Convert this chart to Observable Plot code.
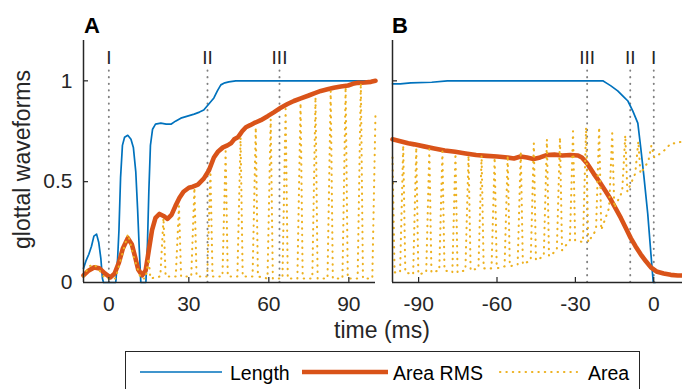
<!DOCTYPE html>
<html>
<head>
<meta charset="utf-8">
<script src="https://cdn.jsdelivr.net/npm/d3@7"></script>
<script src="https://cdn.jsdelivr.net/npm/@observablehq/plot@0.6"></script>
<style>
  html, body { margin: 0; padding: 0; background: #fff; overflow: hidden; }
  #wrap { position: relative; width: 682px; height: 389px; overflow: hidden; font-family: "Liberation Sans", Arial, Helvetica, sans-serif; color: #262626; }
  .plot { position: absolute; top: 0; }
  .plabel { position: absolute; font-weight: bold; font-size: 22px; line-height: 22px; color: #000; }
</style>
</head>
<body>
<div id="wrap"></div>
<script>
// ---------- data ----------
const xDomainA = [-9.5, 100];
const xDomainB = [-100, 11];
const yDomain = [0, 1.2];
const xTicksA = [0, 30, 60, 90];
const xTicksB = [-90, -60, -30, 0];
const yTicks = [0, 0.5, 1];
const markerLabels = ["I", "II", "III"];
const markerTimesA = [0, 37, 64];
const markerTimesB = [0, -9, -25.5];
const seriesNames = ["Length", "Area RMS", "Area"];

const lengthA = [[-9.5,0.07],[-8.5,0.11],[-7.5,0.14],[-6.5,0.18],[-5.6,0.23],[-4.6,0.24],[-3.8,0.20],[-3,0.12],[-2.4,0.02],[-2,0],[2.6,0],[3.3,0.12],[3.8,0.26],[4.4,0.52],[5.1,0.68],[5.9,0.72],[7.1,0.73],[8.3,0.71],[9.2,0.67],[10.1,0.55],[10.8,0.36],[11.4,0.17],[12,0],[13.9,0],[14.5,0.2],[15,0.45],[15.6,0.68],[16.4,0.76],[17.5,0.785],[19.5,0.79],[21.5,0.785],[23.3,0.785],[25,0.80],[27,0.815],[29.5,0.825],[32,0.835],[34,0.845],[35.6,0.855],[37.5,0.885],[39.4,0.915],[40.7,0.95],[42,0.98],[43.5,0.99],[45,0.995],[47.6,1.0],[100,1.0]];

const rmsA = [[-9.5,0.035],[-7.5,0.06],[-5.5,0.075],[-3.5,0.07],[-1.5,0.045],[0.5,0.025],[2.2,0.045],[3.8,0.1],[5.3,0.17],[7.1,0.22],[8.6,0.19],[9.8,0.13],[11,0.065],[12.5,0.035],[13.8,0.06],[15,0.16],[16.2,0.26],[17.5,0.32],[19,0.34],[20.5,0.33],[22,0.315],[23.5,0.335],[25,0.38],[26.5,0.42],[28,0.45],[30,0.47],[31.5,0.475],[33.4,0.485],[35.6,0.515],[37.5,0.555],[39.4,0.62],[41,0.65],[42.8,0.67],[44.5,0.68],[45.8,0.69],[47,0.71],[48.4,0.72],[50,0.75],[51.4,0.77],[53,0.78],[54.4,0.79],[57,0.805],[59.7,0.826],[62,0.845],[64.5,0.867],[67,0.885],[69.4,0.90],[72,0.913],[74.7,0.926],[77,0.938],[79.5,0.95],[82,0.958],[84.4,0.966],[87,0.972],[89.7,0.977],[91.5,0.985],[93.4,0.99],[96,0.992],[98.3,0.995],[100,1.0]];

const areaA = [[-9.5,0.03],[-7.5,0.08],[-5.5,0.09],[-3.5,0.06],[-1.5,0.02],[2.5,0.02],[5,0.14],[7.2,0.24],[9.5,0.12],[12,0.02],[13.8,0.02],[14.9,0.12],[15.6,0.02],
  [19.3,0.03],[20.5,0.32],[21.3,0.03],
  [25.1,0.03],[26.3,0.38],[27.1,0.03],
  [30.9,0.03],[32.1,0.47],[32.9,0.03],
  [36.9,0.03],[38.1,0.55],[38.9,0.03],
  [42.6,0.03],[43.8,0.65],[44.6,0.03],
  [48.2,0.03],[49.4,0.72],[50.2,0.03],
  [53.9,0.03],[55.1,0.77],[55.9,0.03],
  [59.5,0.02],[60.7,0.81],[61.5,0.02],
  [65.1,0.02],[66.3,0.86],[67.1,0.02],
  [70.7,0.02],[71.9,0.89],[72.7,0.02],
  [76.3,0.02],[77.5,0.92],[78.3,0.02],
  [82,0.02],[83.2,0.95],[84,0.02],
  [87.6,0.02],[88.8,0.97],[89.6,0.02],
  [93.3,0.02],[94.5,0.99],[95.3,0.02],
  [98.8,0.02],[100,0.84]];

const lengthB = [[-100,0.985],[-97,0.985],[-93,0.99],[-85,0.993],[-79,1.0],[-19.5,1.0],[-17.6,0.985],[-16.4,0.975],[-13.8,0.95],[-11.5,0.92],[-9.9,0.90],[-8,0.85],[-6.1,0.79],[-5,0.67],[-3.8,0.53],[-2.3,0.34],[-1.2,0.16],[-0.2,0.0],[0.5,0.0]];

const rmsB = [[-100,0.71],[-97,0.70],[-94,0.69],[-91.7,0.685],[-88,0.675],[-84,0.665],[-80,0.655],[-76,0.648],[-72,0.64],[-68,0.632],[-64,0.628],[-60,0.625],[-56,0.62],[-53.5,0.615],[-51,0.625],[-48.5,0.62],[-46,0.613],[-43.5,0.62],[-41,0.632],[-38,0.634],[-35,0.63],[-32,0.632],[-29,0.63],[-27.5,0.62],[-25.5,0.59],[-23,0.54],[-20.3,0.49],[-18.3,0.45],[-16.4,0.41],[-14.5,0.365],[-12.6,0.32],[-10.7,0.27],[-8.8,0.22],[-7,0.18],[-5,0.14],[-3,0.105],[-1.1,0.075],[1,0.055],[3.8,0.045],[6.5,0.038],[9.2,0.035],[11,0.035]];

const areaB = [[-100,0.62],[-99.2,0.05],
  [-97.1,0.05],[-95.9,0.68],[-95.1,0.05],
  [-92.1,0.04],[-90.9,0.67],[-90.1,0.04],
  [-87.1,0.05],[-85.9,0.66],[-85.1,0.05],
  [-82.1,0.06],[-80.9,0.65],[-80.1,0.06],
  [-77.1,0.05],[-75.9,0.64],[-75.1,0.05],
  [-72.1,0.06],[-70.9,0.63],[-70.1,0.06],
  [-67.1,0.07],[-65.9,0.63],[-65.1,0.07],
  [-62.1,0.07],[-60.9,0.62],[-60.1,0.07],
  [-57.1,0.08],[-55.9,0.63],[-55.1,0.08],
  [-52.1,0.09],[-50.9,0.65],[-50.1,0.09],
  [-47.1,0.11],[-45.9,0.69],[-45.1,0.11],
  [-42.1,0.13],[-40.9,0.71],[-40.1,0.13],
  [-37.1,0.16],[-35.9,0.72],[-35.1,0.16],
  [-32.1,0.21],[-30.9,0.75],[-30.1,0.21],
  [-27.1,0.20],[-25.9,0.77],[-25.1,0.20],
  [-22.1,0.26],[-20.9,0.77],[-20.1,0.26],
  [-17.1,0.37],[-15.9,0.74],[-15.1,0.37],
  [-12.1,0.45],[-10.9,0.73],[-10.1,0.45],
  [-7.1,0.54],[-5.9,0.70],[-5.1,0.54],
  [-2.1,0.60],[-0.9,0.68],[0.2,0.62],
  [2.5,0.64],[4.5,0.66],[6.5,0.69],[8.5,0.69],[11,0.70]];

// ---------- style ----------
const FONT = '"Liberation Sans", Arial, Helvetica, sans-serif';
const BLUE = "#0072BD", ORANGE = "#D95319", YELLOW = "#EDB120", AX = "#262626", GRID = "#808080";
const H = 320, MT = 40, MB = 38;

function panel({left, width, marginLeft, marginRight, xDomain, xTicks, tickLabels, markerTimes, length, rms, area}) {
  const plotW = width - marginLeft - marginRight;
  const plotH = H - MT - MB;
  const markers = markerTimes.map((t, i) => ({t, label: markerLabels[i]}));
  const marks = [
    Plot.ruleX(markers, {x: "t", y1: 0, y2: 1.06, stroke: GRID, strokeWidth: 1.9, strokeDasharray: "0.4,6.2", strokeLinecap: "round"}),
    Plot.text(markers, {x: "t", y: 1.116, text: "label", fontSize: 19, fill: AX, lineAnchor: "middle"}),
    Plot.line(length, {x: d => d[0], y: d => d[1], stroke: BLUE, strokeWidth: 1.7}),
    Plot.line(rms, {x: d => d[0], y: d => d[1], stroke: ORANGE, strokeWidth: 4.6}),
    Plot.line(area, {x: d => d[0], y: d => d[1], stroke: YELLOW, strokeWidth: 2.1, strokeDasharray: "0.4,6", strokeLinecap: "round"}),
    Plot.ruleY([yDomain[0]], {stroke: AX, strokeWidth: 1.5}),
    Plot.ruleX([xDomain[0]], {stroke: AX, strokeWidth: 1.5}),
    Plot.tickX(xTicks, {x: d => d, insetTop: plotH - 5, stroke: AX, strokeWidth: 1.2}),
    Plot.tickY(yTicks.slice(1), {y: d => d, insetRight: plotW - 5, stroke: AX, strokeWidth: 1.2}),
    Plot.axisX(xTicks, {tickSize: 0, tickPadding: 14, label: null, fontSize: 21, fill: AX, tickFormat: d => String(d)})
  ];
  if (tickLabels) {
    marks.push(Plot.axisY(yTicks, {tickSize: 0, tickPadding: 11, label: null, fontSize: 21, fill: AX, tickFormat: d => String(d)}));
  }
  const svg = Plot.plot({
    width, height: H,
    marginLeft, marginRight, marginTop: MT, marginBottom: MB,
    x: {domain: xDomain},
    y: tickLabels ? {domain: yDomain} : {domain: yDomain, axis: null},
    style: {fontFamily: FONT, fontSize: "21px", color: AX, background: "transparent", overflow: "visible"},
    marks
  });
  svg.classList.add("plot");
  svg.style.left = left + "px";
  return svg;
}

const wrap = document.getElementById("wrap");
wrap.appendChild(panel({left: 0, width: 380, marginLeft: 83, marginRight: 5, xDomain: xDomainA, xTicks: xTicksA, tickLabels: true, markerTimes: markerTimesA, length: lengthA, rms: rmsA, area: areaA}));
wrap.appendChild(panel({left: 380, width: 302, marginLeft: 12, marginRight: 0, xDomain: xDomainB, xTicks: xTicksB, tickLabels: false, markerTimes: markerTimesB, length: lengthB, rms: rmsB, area: areaB}));

function addDiv(txt, css, cls) {
  const d = document.createElement("div");
  if (cls) d.className = cls;
  d.textContent = txt;
  Object.assign(d.style, {position: "absolute"}, css);
  wrap.appendChild(d);
  return d;
}
addDiv("A", {left: "84px", top: "15px"}, "plabel");
addDiv("B", {left: "392px", top: "15px"}, "plabel");

addDiv("time (ms)", {left: "382px", top: "319px", transform: "translateX(-50%)", fontSize: "23px", lineHeight: "23px", whiteSpace: "nowrap"});
addDiv("glottal waveforms", {left: "-128px", top: "148px", width: "300px", textAlign: "center", fontSize: "23px", lineHeight: "23px", transform: "rotate(-90deg)", whiteSpace: "nowrap"});

// legend
const ns = "http://www.w3.org/2000/svg";
const leg = document.createElementNS(ns, "svg");
leg.setAttribute("width", 682); leg.setAttribute("height", 389);
Object.assign(leg.style, {position: "absolute", left: "0px", top: "0px", pointerEvents: "none"});
const sel = d3.select(leg);
sel.append("rect").attr("x", 125.5).attr("y", 351.5).attr("width", 514).attr("height", 50).attr("fill", "#fff").attr("stroke", AX).attr("stroke-width", 1);
const legItems = [
  {x1: 140, x2: 222, tx: 230, stroke: BLUE, w: 1.7, dash: null},
  {x1: 302, x2: 388, tx: 393, stroke: ORANGE, w: 4.6, dash: null},
  {x1: 500, x2: 577, tx: 588, stroke: YELLOW, w: 2.1, dash: "0.4,6"}
];
legItems.forEach((it, i) => {
  const l = sel.append("line").attr("x1", it.x1).attr("x2", it.x2).attr("y1", 372).attr("y2", 372)
    .attr("stroke", it.stroke).attr("stroke-width", it.w);
  if (it.dash) l.attr("stroke-dasharray", it.dash).attr("stroke-linecap", "round");
  sel.append("text").attr("x", it.tx).attr("y", 379.5).attr("font-family", FONT).attr("font-size", 19.5)
    .attr("fill", "#000").text(seriesNames[i]);
});
wrap.appendChild(leg);
</script>
</body>
</html>
